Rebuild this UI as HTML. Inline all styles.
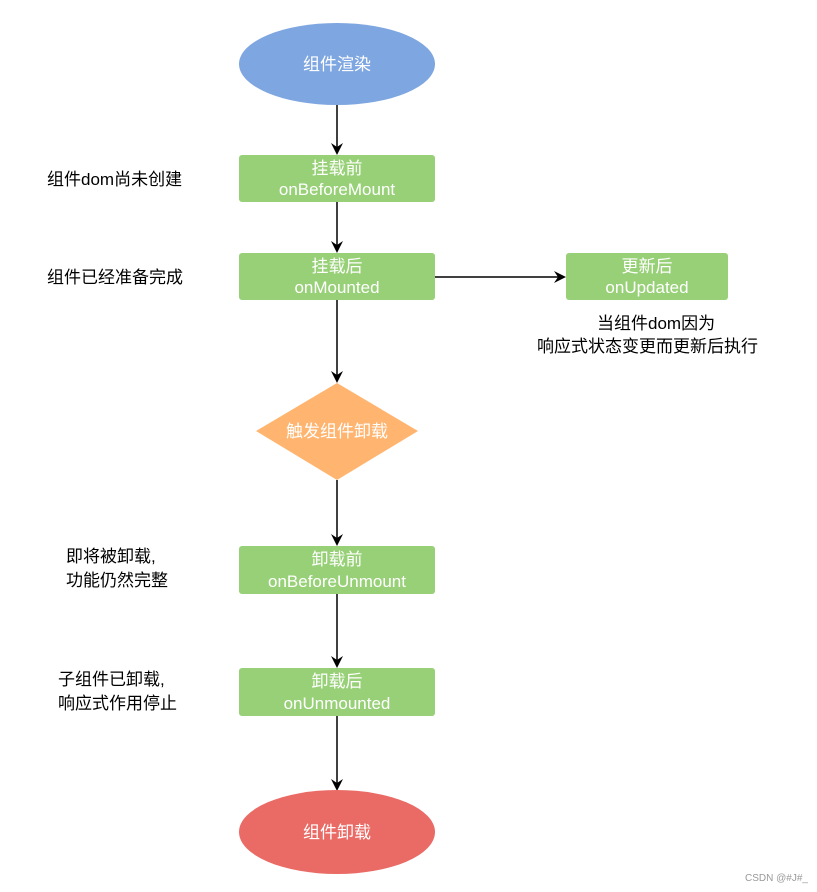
<!DOCTYPE html>
<html><head><meta charset="utf-8"><style>
body{margin:0;background:#fff}
svg{display:block}
text{font-family:"Liberation Sans","Noto Sans CJK SC",sans-serif;font-size:17px}
.w{fill:#fff;text-anchor:middle}
.b{fill:#000}
</style></head><body>
<svg width="817" height="892" viewBox="0 0 817 892">
<defs><marker id="a" markerWidth="12" markerHeight="12" refX="10" refY="6" orient="auto" markerUnits="userSpaceOnUse"><path d="M0,0 L12,6 L0,12 L4,6 z" fill="#000"/></marker></defs>
<g stroke="#000" stroke-width="1.5" fill="none">
<line x1="337" y1="105" x2="337" y2="153" marker-end="url(#a)"/>
<line x1="337" y1="202" x2="337" y2="251" marker-end="url(#a)"/>
<line x1="337" y1="300" x2="337" y2="381" marker-end="url(#a)"/>
<line x1="435" y1="277" x2="564" y2="277" marker-end="url(#a)"/>
<line x1="337" y1="480" x2="337" y2="544" marker-end="url(#a)"/>
<line x1="337" y1="594" x2="337" y2="666" marker-end="url(#a)"/>
<line x1="337" y1="716" x2="337" y2="789" marker-end="url(#a)"/>
</g>
<ellipse cx="337" cy="64" rx="98" ry="41" fill="#7ea6e0"/>
<text class="w" x="337" y="70">组件渲染</text>
<rect x="239" y="155" width="196" height="47" rx="3" fill="#97d077"/>
<text class="w" x="337" y="174">挂载前</text><text class="w" x="337" y="195">onBeforeMount</text>
<rect x="239" y="253" width="196" height="47" rx="3" fill="#97d077"/>
<text class="w" x="337" y="272">挂载后</text><text class="w" x="337" y="293">onMounted</text>
<rect x="566" y="253" width="162" height="47" rx="3" fill="#97d077"/>
<text class="w" x="647" y="272">更新后</text><text class="w" x="647" y="293">onUpdated</text>
<polygon points="337,383 418,431 337,480 256,431" fill="#ffb570"/>
<text class="w" x="337" y="437">触发组件卸载</text>
<rect x="239" y="546" width="196" height="48" rx="3" fill="#97d077"/>
<text class="w" x="337" y="565">卸载前</text><text class="w" x="337" y="587">onBeforeUnmount</text>
<rect x="239" y="668" width="196" height="48" rx="3" fill="#97d077"/>
<text class="w" x="337" y="687">卸载后</text><text class="w" x="337" y="709">onUnmounted</text>
<ellipse cx="337" cy="832" rx="98" ry="42" fill="#ea6b66"/>
<text class="w" x="337" y="838">组件卸载</text>
<text class="b" x="47" y="185">组件dom尚未创建</text>
<text class="b" x="47" y="283">组件已经准备完成</text>
<text class="b" x="597" y="329">当组件dom因为</text>
<text class="b" x="537" y="352">响应式状态变更而更新后执行</text>
<text class="b" x="66" y="562">即将被卸载,</text>
<text class="b" x="66" y="586">功能仍然完整</text>
<text class="b" x="58" y="685">子组件已卸载,</text>
<text class="b" x="58" y="709">响应式作用停止</text>
<text x="745" y="881" style="font-size:10px;fill:#999">CSDN @#J#_</text>
</svg>
</body></html>
